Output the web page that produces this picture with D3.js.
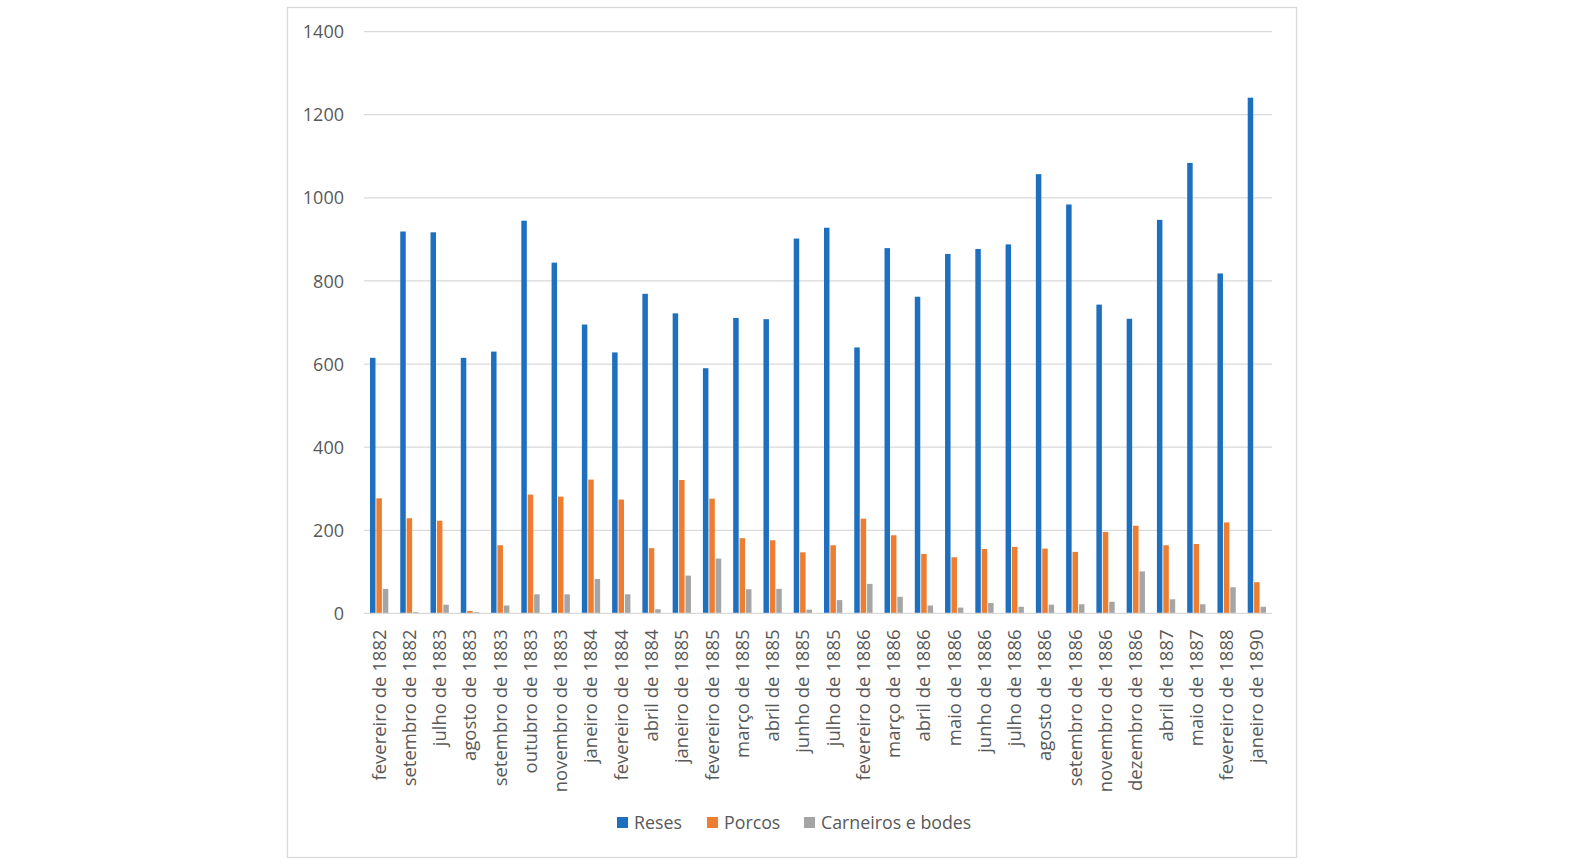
<!DOCTYPE html>
<html><head><meta charset="utf-8">
<script src="https://cdn.jsdelivr.net/npm/d3@7"></script>
<style>body{margin:0;background:#fff}svg text{font-family:"Open Sans",sans-serif;fill:#595959}</style>
</head><body><svg id="c" width="1585" height="866"></svg>
<script>
const categories = ["fevereiro de 1882","setembro de 1882","julho de 1883","agosto de 1883","setembro de 1883","outubro de 1883","novembro de 1883","janeiro de 1884","fevereiro de 1884","abril de 1884","janeiro de 1885","fevereiro de 1885","março de 1885","abril de 1885","junho de 1885","julho de 1885","fevereiro de 1886","março de 1886","abril de 1886","maio de 1886","junho de 1886","julho de 1886","agosto de 1886","setembro de 1886","novembro de 1886","dezembro de 1886","abril de 1887","maio de 1887","fevereiro de 1888","janeiro de 1890"];
const reses = [615,919,917,615,630,945,844,695,628,769,722,590,711,708,902,928,640,879,762,865,877,888,1057,984,743,709,947,1084,818,1241];
const porcos = [277,229,223,6,164,286,281,322,274,157,321,276,181,176,147,164,228,188,143,135,155,160,156,148,196,211,164,167,219,75];
const carneiros = [59,3,21,3,19,46,46,83,46,10,91,132,58,59,9,32,71,40,19,14,25,16,21,22,28,101,34,22,63,16];
const seriesNames = ["Reses","Porcos","Carneiros e bodes"];
const colors = ["#1f6fbf","#ed7d31","#a5a5a5"];
const yTicks = [0,200,400,600,800,1000,1200,1400];

const svg = d3.select("#c");
svg.append("rect").attr("x",287.5).attr("y",7.5).attr("width",1009).attr("height",850)
  .attr("fill","#fff").attr("stroke","#d9d9d9").attr("stroke-width",1.3);

const x0 = 364, x1 = 1272, yTop = 31.6, yBot = 613.4;
const x = d3.scaleBand().domain(categories).range([x0,x1]).paddingInner(0).paddingOuter(0);
const y = d3.scaleLinear().domain([0,1400]).range([yBot,yTop]);
const series = [reses,porcos,carneiros];
const barW = 5.5, barStep = 6.4;

// gridlines
svg.append("g").selectAll("line").data(yTicks.filter(d=>d>0)).join("line")
  .attr("x1",x0).attr("x2",x1).attr("y1",d=>y(d)).attr("y2",d=>y(d))
  .attr("stroke","#d9d9d9").attr("stroke-width",1.3);

// y labels
const yAxis = d3.axisLeft(y).tickValues(yTicks).tickFormat(d3.format("d")).tickSize(0).tickPadding(0);
const ga = svg.append("g").attr("transform","translate(344,0)").call(yAxis);
ga.select(".domain").remove();
ga.selectAll("text").attr("font-size",18).style("font-family","'Open Sans',sans-serif").attr("fill","#595959").attr("dy","0.34em");

// bars
series.forEach((vals,si)=>{
  svg.append("g").selectAll("rect").data(vals).join("rect")
    .attr("x",(d,i)=>x(categories[i]) + x.bandwidth()/2 - 1.5*barStep + si*barStep + (barStep-barW)/2)
    .attr("width",barW)
    .attr("y",d=>y(d)).attr("height",d=>yBot-y(d))
    .attr("fill",colors[si]);
});

// baseline
svg.append("line").attr("x1",x0).attr("x2",x1).attr("y1",yBot).attr("y2",yBot)
  .attr("stroke","#d9d9d9").attr("stroke-width",1.3);

// x labels
const xAxis = d3.axisBottom(x).tickSize(0).tickPadding(0);
const gx = svg.append("g").attr("transform",`translate(0,${yBot})`).call(xAxis);
gx.select(".domain").remove();
gx.selectAll("text").attr("font-size",18.5).style("font-family","'Open Sans',sans-serif").attr("fill","#595959")
  .attr("text-anchor","end").attr("transform","rotate(-90)").attr("x",-16).attr("y",0).attr("dy","0.35em");

// legend
const legX = [617,707,804];
const lg = svg.append("g");
seriesNames.forEach((n,i)=>{
  lg.append("rect").attr("x",legX[i]).attr("y",817).attr("width",11).attr("height",11).attr("fill",colors[i]);
  lg.append("text").attr("x",legX[i]+17).attr("y",822.5).attr("dy","0.35em").attr("font-size",17.8).text(n);
});
</script></body></html>
